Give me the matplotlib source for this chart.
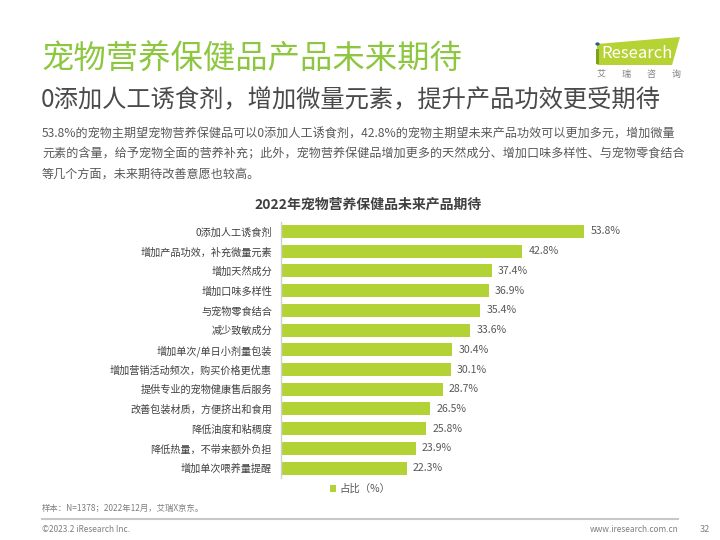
import matplotlib
matplotlib.use("Agg")
import matplotlib.pyplot as plt
from matplotlib.patches import Polygon, Circle, Rectangle
from matplotlib.lines import Line2D

plt.rcParams['font.family'] = ['Noto Sans CJK SC', 'DejaVu Sans']

categories = ["0添加人工诱食剂", "增加产品功效，补充微量元素", "增加天然成分", "增加口味多样性",
              "与宠物零食结合", "减少致敏成分", "增加单次/单日小剂量包装",
              "增加营销活动频次，购买价格更优惠", "提供专业的宠物健康售后服务",
              "改善包装材质，方便挤出和食用", "降低油度和粘稠度", "降低热量，不带来额外负担",
              "增加单次喂养量提醒"]
values = [53.8, 42.8, 37.4, 36.9, 35.4, 33.6, 30.4, 30.1, 28.7, 26.5, 25.8, 23.9, 22.3]
series_name = "占比（%）"

title = "宠物营养保健品产品未来期待"
subtitle = "0添加人工诱食剂，增加微量元素，提升产品功效更受期待"
body_lines = ["53.8%的宠物主期望宠物营养保健品可以0添加人工诱食剂，42.8%的宠物主期望未来产品功效可以更加多元，增加微量",
              "元素的含量，给予宠物全面的营养补充；此外，宠物营养保健品增加更多的天然成分、增加口味多样性、与宠物零食结合",
              "等几个方面，未来期待改善意愿也较高。"]
chart_title = "2022年宠物营养保健品未来产品期待"
source = "样本：N=1378；2022年12月，艾瑞X京东。"

W, H = 720, 540
fig = plt.figure(figsize=(W / 100, H / 100), dpi=100)

def fx(x):
    return x / W

def fy(y):
    return 1 - y / H

BAR = '#B2D235'
GREEN = '#8DC63F'

# texts
fig.text(fx(41), fy(60), title, fontsize=23.3, color=GREEN, va='center', ha='left', fontweight='light')
fig.text(fx(41), fy(100), subtitle, fontsize=17.5, color='#4A4A4A', va='center', ha='left')
for i, line in enumerate(body_lines):
    fig.text(fx(42), fy(134 + 20 * i), line, fontsize=8.7, color='#595959', va='center', ha='left')
fig.text(fx(368), fy(205), chart_title, fontsize=10, fontweight='bold', color='#404040',
         va='center', ha='center')

# logo
fig.add_artist(Polygon([[fx(597), fy(44)], [fx(680), fy(37)], [fx(672), fy(65)], [fx(597), fy(65)]],
                       closed=True, transform=fig.transFigure, facecolor='#B5D334', edgecolor='none'))
fig.add_artist(Rectangle((fx(595.5), fy(64)), fx(3.5), 1 / H * 15, transform=fig.transFigure,
                         facecolor='#7F9F1F', edgecolor='none'))
fig.add_artist(Circle((fx(597.5), fy(44)), 2.2 / W, transform=fig.transFigure,
                      facecolor='#2E5C9A', edgecolor='none'))
fig.text(fx(601.5), fy(53), "Research", fontsize=12, color='white', va='center', ha='left')
for xc, ch in zip([601, 626, 651, 676], "艾瑞咨询"):
    fig.text(fx(xc), fy(74), ch, fontsize=6.5, color='#7F7F7F', va='center', ha='center')

# axes
left, right = 281, 619
top, bottom = 221.6, 478
ax = fig.add_axes([fx(left), fy(bottom), (right - left) / W, (bottom - top) / H])
pos = list(range(len(categories)))
ax.barh(pos, values, height=0.66, color=BAR, label=series_name)
ax.set_ylim(len(categories) - 0.5, -0.5)
ax.set_xlim(0, 60)
ax.set_yticks(pos)
ax.set_yticklabels(categories, fontsize=7.3, color='#404040')
ax.tick_params(axis='y', length=0, pad=6.5)
ax.set_xticks([])
for s in ['top', 'right', 'bottom']:
    ax.spines[s].set_visible(False)
ax.spines['left'].set_color('#D0D0D0')
ax.spines['left'].set_linewidth(1.0)
for p, v in zip(pos, values):
    ax.annotate(f"{v}%", xy=(v, p), xytext=(4.5, 0), textcoords='offset points',
                va='center', ha='left', fontsize=7.6, color='#595959')
ax.legend(loc='center', bbox_to_anchor=(fx(360), fy(489)), bbox_transform=fig.transFigure,
          frameon=False, fontsize=7.5, handlelength=0.55, handleheight=0.55, handletextpad=0.3,
          labelcolor='#595959')

# footer
fig.text(fx(42), fy(508), source, fontsize=6, color='#7F7F7F', va='center', ha='left')
fig.add_artist(Line2D([fx(42), fx(678)], [fy(519), fy(519)], transform=fig.transFigure,
                      color='#C8C8C8', linewidth=1.5))
fig.text(fx(42), fy(529), "©2023.2 iResearch Inc.", fontsize=6, color='#7F7F7F', va='center', ha='left')
fig.text(fx(679), fy(529), "www.iresearch.com.cn", fontsize=6, color='#7F7F7F', va='center', ha='right')
fig.text(fx(705), fy(529), "32", fontsize=6.5, color='#7F7F7F', va='center', ha='center')

fig.savefig("out.png", dpi=100)
